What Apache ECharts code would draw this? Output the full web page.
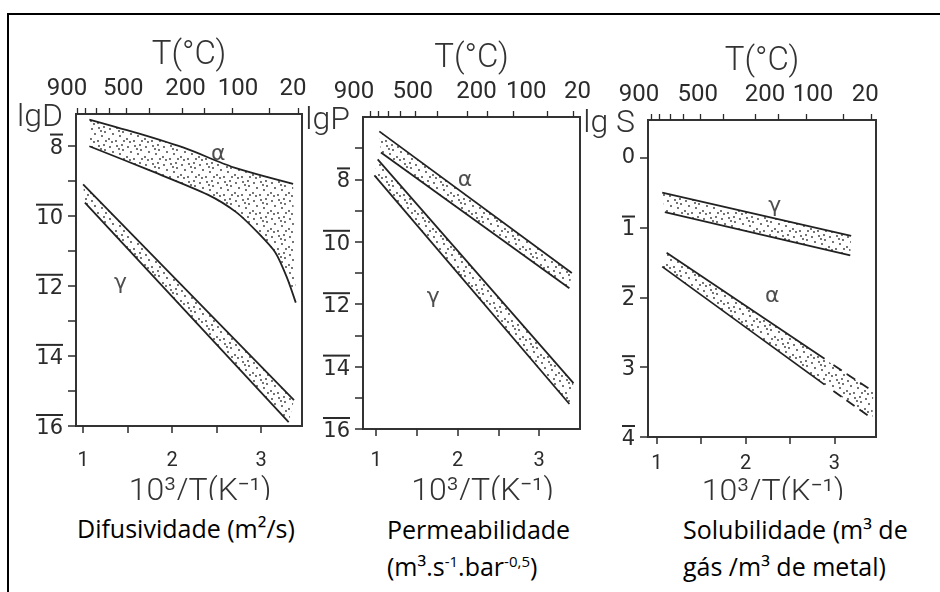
<!DOCTYPE html>
<html>
<head>
<meta charset="utf-8">
<script src="https://cdn.jsdelivr.net/npm/echarts@6/dist/echarts.min.js"></script>
<style>
  body { margin: 0; background: #fff; }
  #frame { position: absolute; left: 7px; top: 13px; width: 960px; height: 620px; border-left: 2px solid #000; border-top: 2px solid #000; }
  #chart { position: absolute; left: 0; top: 0; width: 940px; height: 500px; }
  .cap { position: absolute; font-family: 'Open Sans', sans-serif; font-size: 25px; line-height: 37px; color: #000; white-space: nowrap; }
  .cap sup { font-size: 0.6em; line-height: 0; }
</style>
</head>
<body>
<div id="frame"></div>
<div id="chart"></div>
<div class="cap" style="left:77px; top:510px">Difusividade (m²/s)</div>
<div class="cap" style="left:387px; top:511px">Permeabilidade<br>(m³.s<sup>-1</sup>.bar<sup>-0,5</sup>)</div>
<div class="cap" style="left:683px; top:511px">Solubilidade (m³ de<br>gás /m³ de metal)</div>
<script>
// values (x = 10^3/T, y = log10)
const bottomTicks = [1, 1.5, 2, 2.5, 3];
const bottomLabels = [1, 2, 3];
const topTickTemps = [800, 700, 600, 500, 400, 300, 200, 150, 100, 50, 20];
const topLabels = ['900', '500', '200', '100', '20'];
const dTopLabelX = [0.92, 1.45, 2.15, 2.74, 3.36];
const pTopLabelX = [0.84, 1.45, 2.23, 2.84, 3.47];
const sTopLabelX = [0.90, 1.46, 2.22, 2.76, 3.35];

const dYTicks = [-16, -15, -14, -13, -12, -11, -10, -9, -8];
const dYLabels = [-16, -14, -12, -10, -8];
const pYTicks = [-16, -15, -14, -13, -12, -11, -10, -9, -8, -7];
const pYLabels = [-16, -14, -12, -10, -8];
const sYTicks = [-4, -3, -2, -1, 0];
const sYLabels = [-4, -3, -2, -1, 0];

// difusividade
const dAlphaUp = [[1.07, -7.26], [1.64, -7.67], [2.16, -8.09], [2.69, -8.62], [3.36, -9.09]];
const dAlphaLow = [[1.07, -8.02], [1.75, -8.71], [2.40, -9.40], [2.72, -9.90], [2.97, -10.50], [3.16, -11.05], [3.29, -11.76], [3.39, -12.48]];
const dGammaUp = [[1.0, -9.11], [3.37, -15.26]];
const dGammaLow = [[1.02, -9.63], [3.31, -15.89]];
// permeabilidade
const pAlphaUp = [[1.04, -6.46], [3.40, -11.0]];
const pAlphaLow = [[1.06, -7.14], [3.37, -11.49]];
const pGammaUp = [[1.02, -7.36], [3.42, -14.53]];
const pGammaLow = [[0.98, -7.87], [3.37, -15.2]];
// solubilidade
const sGammaUp = [[1.06, -0.50], [3.19, -1.12]];
const sGammaLow = [[1.09, -0.78], [3.18, -1.40]];
const sAlphaUp = [[1.11, -1.36], [2.89, -2.88]];
const sAlphaLow = [[1.06, -1.56], [2.89, -3.25]];
const sAlphaUpDash = [[2.99, -2.97], [3.44, -3.35]];
const sAlphaLowDash = [[2.99, -3.34], [3.43, -3.74]];

const dPhase = [{ name: 'α', value: [2.52, -8.25] }, { name: 'γ', value: [1.42, -11.94] }];
const pPhase = [{ name: 'α', value: [2.09, -8.03] }, { name: 'γ', value: [1.70, -11.78] }];
const sPhase = [{ name: 'γ', value: [2.33, -0.70] }, { name: 'α', value: [2.30, -1.99] }];

const ink = '#2b2b2b';
const font = 'Roboto, "DejaVu Sans", sans-serif';

function makeDots() {
    const c = document.createElement('canvas');
    c.width = 18; c.height = 18;
    const ctx = c.getContext('2d');
    ctx.fillStyle = '#333';
    [[2, 3], [9, 2], [15, 6], [5, 8], [12, 10], [1, 13], [8, 15], [16, 15], [11, 5], [4, 16], [14, 1]].forEach(p => {
        ctx.beginPath();
        ctx.arc(p[0], p[1], 0.9, 0, Math.PI * 2);
        ctx.fill();
    });
    return c;
}
const dots = { image: makeDots(), repeat: 'repeat' };

// negative logs are written with a bar over the number (8̄ = -8)
function barred(v) {
    if (v === 0) return '{n|0}';
    const s = String(-v);
    return '{b' + s.length + '|}\n{n|' + s + '}';
}
const yRich = {
    n: { fontSize: 21, fontFamily: '"DejaVu Sans", sans-serif', color: ink, lineHeight: 22 },
    b1: { width: 13, height: 2, lineHeight: 5, backgroundColor: ink },
    b2: { width: 27, height: 2, lineHeight: 5, backgroundColor: ink }
};

const panels = [
    { grid: { left: 76, top: 114, width: 226, height: 312 }, x: [0.92, 3.46], y: [-16, -7.1], labelGap: 25, nameGap: 50, yTicks: dYTicks, yLabels: dYLabels, topX: dTopLabelX, name: 'lgD',
      bands: [[dAlphaUp, dAlphaLow], [dGammaUp, dGammaLow]], phase: dPhase },
    { grid: { left: 363, top: 117, width: 217, height: 312 }, x: [0.84, 3.50], y: [-16, -6], labelGap: 22, nameGap: 47, yTicks: pYTicks, yLabels: pYLabels, topX: pTopLabelX, name: 'lgP',
      bands: [[pAlphaUp, pAlphaLow], [pGammaUp, pGammaLow]], phase: pPhase },
    { grid: { left: 648, top: 120, width: 228, height: 317 }, x: [0.90, 3.47], y: [-4, 0.54], labelGap: 17, nameGap: 40, yTicks: sYTicks, yLabels: sYLabels, topX: sTopLabelX, name: 'lg S',
      bands: [[sAlphaUp.concat(sAlphaUpDash), sAlphaLow.concat(sAlphaLowDash)], [sGammaUp, sGammaLow]], phase: sPhase }
];

const grid = [], xAxis = [], yAxis = [], series = [];

panels.forEach((p, i) => {
    grid.push(Object.assign({ show: true, borderColor: '#333', borderWidth: 2, backgroundColor: 'transparent', containLabel: false, outerBoundsMode: 'none' }, p.grid));
    xAxis.push({
        type: 'value', gridIndex: i, position: 'bottom', min: p.x[0], max: p.x[1],
        axisLine: { show: false, onZero: false }, splitLine: { show: false },
        axisTick: { customValues: bottomTicks, inside: false, length: 7, lineStyle: { color: ink, width: 1.5 } },
        axisLabel: { customValues: bottomLabels, color: ink, fontSize: 20, fontFamily: font, margin: p.labelGap },
        name: '10³/T(K⁻¹)', nameLocation: 'middle', nameGap: p.nameGap, nameMoveOverlap: false,
        nameTextStyle: { color: '#333', fontSize: 32, fontFamily: font, fontWeight: 300, padding: [0, 0, 0, 22] }
    });
    xAxis.push({
        type: 'value', gridIndex: i, position: 'top', min: p.x[0], max: p.x[1],
        axisLine: { show: false, onZero: false }, splitLine: { show: false },
        axisTick: { customValues: topTickTemps.map(t => 1000 / (t + 273)), inside: false, length: 6, lineStyle: { color: ink, width: 1.3 } },
        axisLabel: {
            customValues: p.topX, color: ink, fontSize: 24, fontFamily: font, margin: 13,
            formatter: v => {
                const k = p.topX.findIndex(q => Math.abs(q - v) < 1e-9);
                return k === 0 ? '{s|' + topLabels[0] + '}' : topLabels[k];
            },
            rich: { s: { padding: [0, 18, 0, 0], fontSize: 24, fontFamily: font, color: ink } }
        },
        name: 'T(°C)', nameLocation: 'middle', nameGap: 42, nameMoveOverlap: false,
        nameTextStyle: { color: '#333', fontSize: 33, fontFamily: font, fontWeight: 300 }
    });
    yAxis.push({
        type: 'value', gridIndex: i, min: p.y[0], max: p.y[1],
        axisLine: { show: false, onZero: false }, splitLine: { show: false },
        axisTick: { customValues: p.yTicks, inside: false, length: 8, lineStyle: { color: ink, width: 1.5 } },
        axisLabel: { customValues: p.yLabels, margin: 13, formatter: barred, rich: yRich },
        name: p.name, nameLocation: 'end', nameGap: -4, nameMoveOverlap: false,
        nameTextStyle: { color: '#333', fontSize: 32, fontFamily: font, fontWeight: 300, align: 'right', verticalAlign: 'middle', padding: [0, 13, 0, 0] }
    });

    p.bands.forEach(b => {
        series.push({
            type: 'custom', xAxisIndex: 2 * i, yAxisIndex: i, data: [0], silent: true, clip: true,
            renderItem: (params, api) => {
                const pts = b[0].map(q => api.coord(q)).concat(b[1].slice().reverse().map(q => api.coord(q)));
                return { type: 'polygon', shape: { points: pts }, style: { fill: dots, stroke: null } };
            }
        });
    });
});

function edge(i, data, dashed, smooth) {
    return {
        type: 'line', xAxisIndex: 2 * i, yAxisIndex: i, data: data, showSymbol: false, silent: true,
        smooth: smooth ? 0.25 : false,
        lineStyle: { color: '#222', width: 1.8, type: dashed ? [10, 6] : 'solid' }
    };
}
series.push(edge(0, dAlphaUp, false, true), edge(0, dAlphaLow, false, true), edge(0, dGammaUp), edge(0, dGammaLow));
series.push(edge(1, pAlphaUp), edge(1, pAlphaLow), edge(1, pGammaUp), edge(1, pGammaLow));
series.push(edge(2, sGammaUp), edge(2, sGammaLow), edge(2, sAlphaUp), edge(2, sAlphaLow),
    edge(2, sAlphaUpDash, true), edge(2, sAlphaLowDash, true));

panels.forEach((p, i) => {
    series.push({
        type: 'scatter', xAxisIndex: 2 * i, yAxisIndex: i, data: p.phase, symbolSize: 0, silent: true,
        label: { show: true, position: 'inside', formatter: '{b}', color: '#222', fontSize: 22, fontFamily: '"DejaVu Sans", sans-serif' }
    });
});

const myChart = echarts.init(document.getElementById('chart'));
myChart.setOption({
    backgroundColor: 'transparent',
    animation: false,
    grid: grid,
    xAxis: xAxis,
    yAxis: yAxis,
    series: series
});
</script>
</body>
</html>
